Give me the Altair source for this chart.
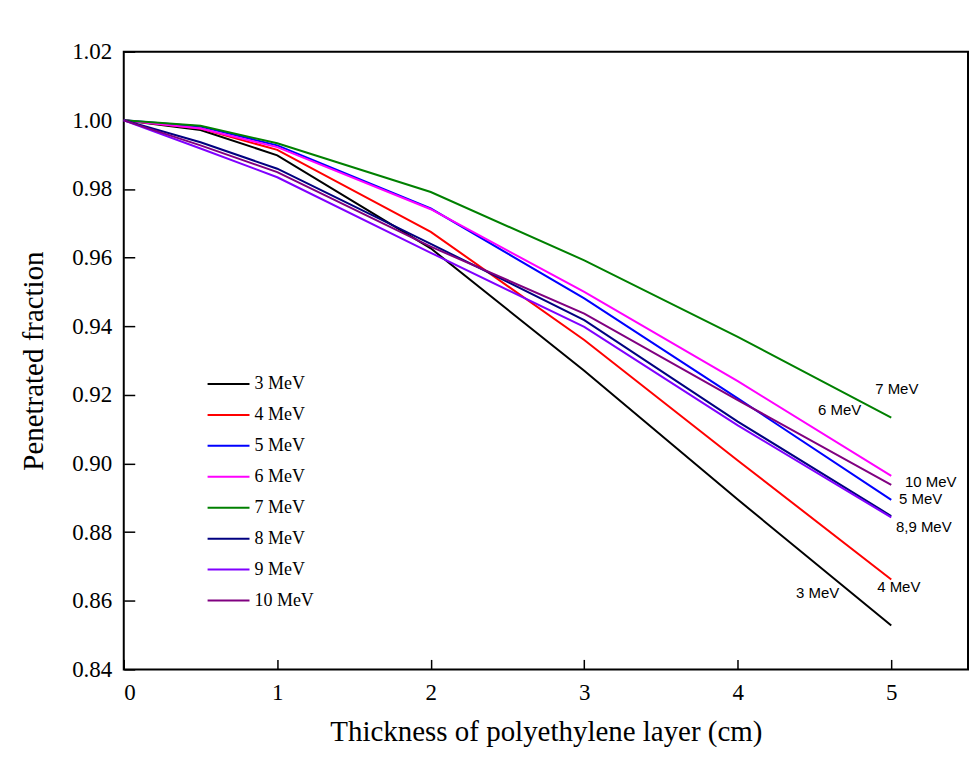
import altair as alt
import pandas as pd

# ---- data ----
thickness = [0, 0.5, 1, 2, 3, 4, 5]
energies = ["3 MeV", "4 MeV", "5 MeV", "6 MeV", "7 MeV", "8 MeV", "9 MeV", "10 MeV"]
frac_3 = [1.0, 0.9972, 0.9898, 0.9627, 0.9270, 0.8895, 0.8528]
frac_4 = [1.0, 0.9976, 0.9914, 0.9675, 0.9360, 0.9009, 0.8662]
frac_5 = [1.0, 0.9982, 0.9927, 0.9743, 0.9481, 0.9190, 0.8894]
frac_6 = [1.0, 0.9976, 0.9922, 0.9741, 0.9500, 0.9240, 0.8964]
frac_7 = [1.0, 0.9984, 0.9933, 0.9791, 0.9592, 0.9369, 0.9134]
frac_8 = [1.0, 0.9936, 0.9859, 0.9640, 0.9418, 0.9122, 0.8847]
frac_9 = [1.0, 0.9918, 0.9834, 0.9614, 0.9398, 0.9111, 0.8843]
frac_10 = [1.0, 0.9927, 0.9849, 0.9632, 0.9437, 0.9185, 0.8938]
series = [frac_3, frac_4, frac_5, frac_6, frac_7, frac_8, frac_9, frac_10]
colors = ["#000000", "#ff0000", "#0000ff", "#ff00ff", "#008000", "#000080", "#8000ff", "#800080"]

x_ticks = [0, 1, 2, 3, 4, 5]
y_ticks = [0.84, 0.86, 0.88, 0.90, 0.92, 0.94, 0.96, 0.98, 1.00, 1.02]

ann_labels = ["7 MeV", "6 MeV", "10 MeV", "5 MeV", "8,9 MeV", "4 MeV", "3 MeV"]
ann_x = [5.036, 4.664, 5.257, 5.192, 5.212, 5.049, 4.521]
ann_y = [0.9217, 0.9156, 0.8947, 0.8897, 0.8816, 0.8639, 0.8624]

rows = []
for e, vals in zip(energies, series):
    for t, v in zip(thickness, vals):
        rows.append({"thickness": t, "fraction": v, "energy": e})
df = pd.DataFrame(rows)
ann_df = pd.DataFrame({"x": ann_x, "y": ann_y, "label": ann_labels})

SERIF = "Liberation Serif"

xscale = alt.Scale(domain=[0, 5.5], nice=False, zero=False)
yscale = alt.Scale(domain=[0.84, 1.02], nice=False, zero=False)

lines = alt.Chart(df).mark_line(strokeWidth=2).encode(
    x=alt.X("thickness:Q", scale=xscale,
            title="Thickness of polyethylene layer (cm)",
            axis=alt.Axis(values=x_ticks, format="d", offset=-10, tickSize=10,
                          labelPadding=12, titlePadding=13, domain=False, grid=False)),
    y=alt.Y("fraction:Q", scale=yscale, title="Penetrated fraction",
            axis=alt.Axis(values=y_ticks, format=".2f", offset=-11, tickSize=11,
                          labelPadding=12, titlePadding=23, domain=False, grid=False)),
    color=alt.Color("energy:N", scale=alt.Scale(domain=energies, range=colors),
                    legend=alt.Legend(title=None, orient="none", legendX=83, legendY=311,
                                      symbolType="stroke", symbolSize=1764,
                                      symbolStrokeWidth=2, labelFont=SERIF,
                                      labelFontSize=18, labelColor="black",
                                      rowPadding=0, padding=0, labelOffset=4)),
    detail="energy:N",
)

text = alt.Chart(ann_df).mark_text(font="Liberation Sans", fontSize=15, color="black").encode(
    x=alt.X("x:Q", scale=xscale),
    y=alt.Y("y:Q", scale=yscale),
    text="label:N",
)

chart = alt.layer(lines, text).properties(
    width=846, height=619,
    autosize=alt.AutoSizeParams(type="none"),
    padding={"left": 116, "top": 43, "right": 4, "bottom": 90},
    background="white",
).configure_view(
    stroke="black", strokeWidth=2
).configure_axis(
    labelFont=SERIF, labelFontSize=23, labelColor="black",
    titleFont=SERIF, titleFontSize=29, titleFontWeight="normal", titleColor="black",
    tickColor="black", tickWidth=1.5,
)

chart.save("out.html", embed_options={"renderer": "svg", "actions": False})
